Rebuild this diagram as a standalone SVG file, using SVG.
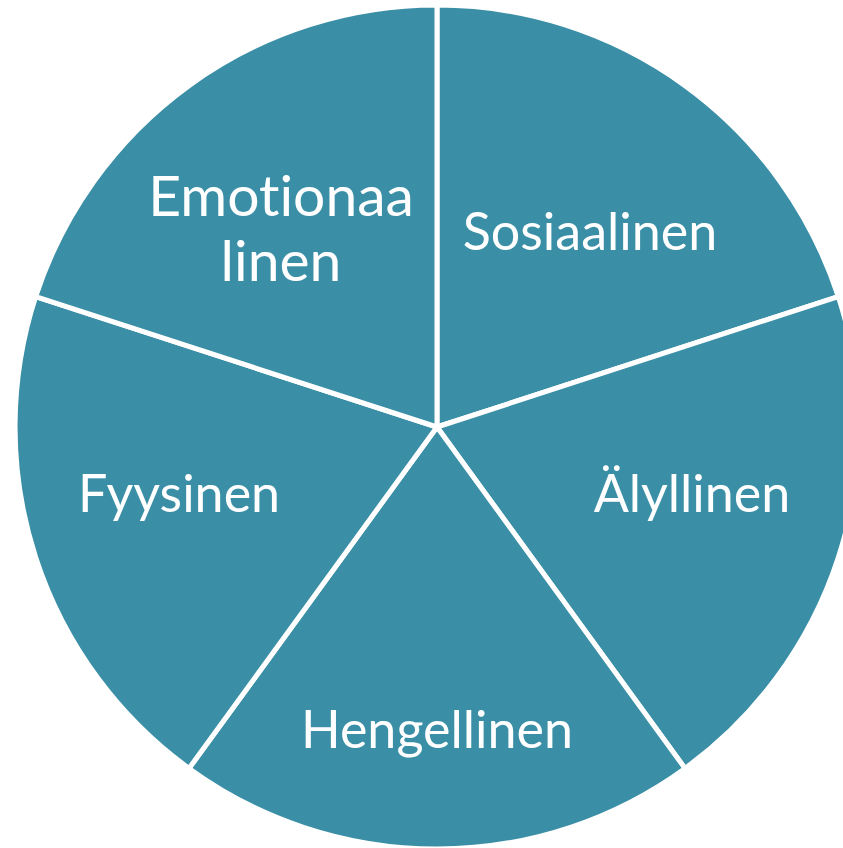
<svg xmlns="http://www.w3.org/2000/svg" width="843" height="848" viewBox="0 0 843 848">
<style>
.s{fill:#3a8fa6;stroke:#ffffff;stroke-width:5;stroke-linejoin:round}
.t{font-family:Lato,"Open Sans","DejaVu Sans",sans-serif;font-size:52px;fill:#ffffff;text-anchor:middle;font-variant-ligatures:none}
.big{font-size:57px}
</style>
<rect width="843" height="848" fill="#ffffff"/>
<g id="sosiaalinen">
<path class="s" d="M437,427 L437,5 A422,422 0 0 1 838.3,296.6 Z"/>
<text class="t" x="590" y="250">Sosiaalinen</text>
</g>
<g id="alyllinen">
<path class="s" d="M437,427 L838.3,296.6 A422,422 0 0 1 685.0,768.4 Z"/>
<text class="t" x="692" y="512">Älyllinen</text>
</g>
<g id="hengellinen">
<path class="s" d="M437,427 L685.0,768.4 A422,422 0 0 1 189.0,768.4 Z"/>
<text class="t" x="437" y="748">Hengellinen</text>
</g>
<g id="fyysinen">
<path class="s" d="M437,427 L189.0,768.4 A422,422 0 0 1 35.7,296.6 Z"/>
<text class="t" x="179" y="512">Fyysinen</text>
</g>
<g id="emotionaalinen">
<path class="s" d="M437,427 L35.7,296.6 A422,422 0 0 1 437,5 Z"/>
<text class="t big" x="281" y="216">Emotionaa</text>
<text class="t big" x="281" y="281">linen</text>
</g>
<g id="connectors"/>
</svg>
